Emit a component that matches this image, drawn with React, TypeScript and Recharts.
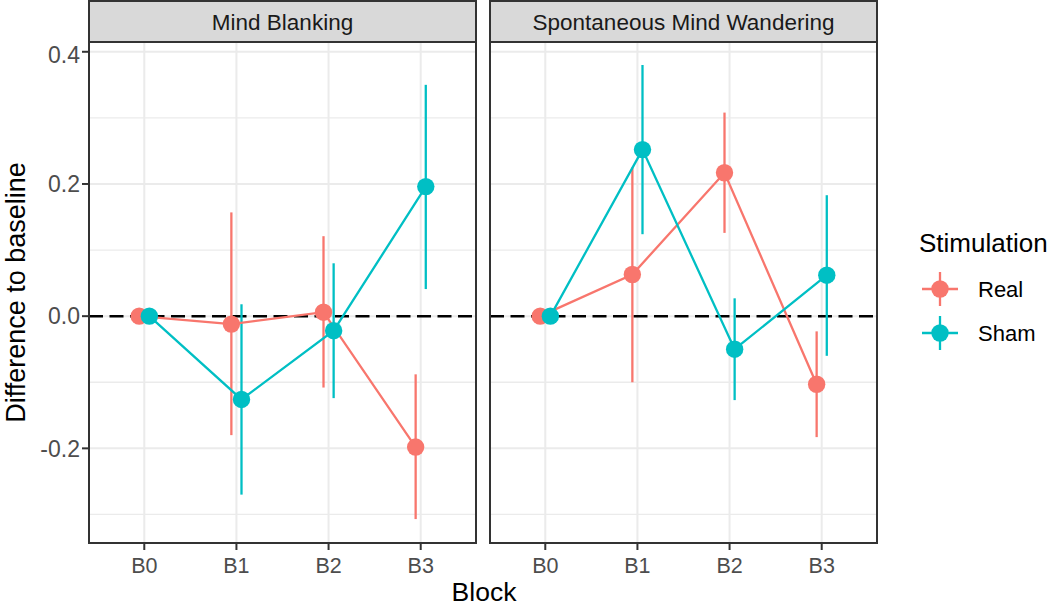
import React from 'react'
import {
  ScatterChart,
  Scatter,
  XAxis,
  YAxis,
  CartesianGrid,
  ReferenceLine,
  ErrorBar,
} from 'recharts'

const blocks = ['B0', 'B1', 'B2', 'B3']
const panelTitles = ['Mind Blanking', 'Spontaneous Mind Wandering']
const stimulations = ['Real', 'Sham']
const yTicks = [-0.2, 0, 0.2, 0.4]
const yMinor = [-0.3, -0.1, 0.1, 0.3]

// Mind Blanking
const blankRealMean = [0, -0.012, 0.006, -0.198]
const blankRealLow = [0, -0.18, -0.108, -0.307]
const blankRealHigh = [0, 0.157, 0.121, -0.088]
const blankShamMean = [0, -0.126, -0.022, 0.196]
const blankShamLow = [0, -0.27, -0.124, 0.041]
const blankShamHigh = [0, 0.018, 0.08, 0.35]

// Spontaneous Mind Wandering
const wanderRealMean = [0, 0.063, 0.217, -0.103]
const wanderRealLow = [0, -0.1, 0.126, -0.183]
const wanderRealHigh = [0, 0.225, 0.308, -0.023]
const wanderShamMean = [0, 0.252, -0.05, 0.062]
const wanderShamLow = [0, 0.124, -0.127, -0.06]
const wanderShamHigh = [0, 0.38, 0.027, 0.183]

const COLORS = { Real: '#F8766D', Sham: '#00BFC4' }
const FONT = '"Liberation Sans", Arial, sans-serif'
const DODGE = 0.055

const makeSeries = (mean: number[], low: number[], high: number[], dodge: number) =>
  blocks.map((b, i) => ({
    x: i + 1 + dodge,
    y: mean[i],
    err: [mean[i] - low[i], high[i] - mean[i]],
  }))

const panels = [
  {
    title: panelTitles[0],
    real: makeSeries(blankRealMean, blankRealLow, blankRealHigh, -DODGE),
    sham: makeSeries(blankShamMean, blankShamLow, blankShamHigh, DODGE),
  },
  {
    title: panelTitles[1],
    real: makeSeries(wanderRealMean, wanderRealLow, wanderRealHigh, -DODGE),
    sham: makeSeries(wanderShamMean, wanderShamLow, wanderShamHigh, DODGE),
  },
]

// layout (px, page coords)
const PLOT_TOP = 42
const PLOT_H = 501
const PLOT_W = 387
const PANEL_LEFT = [89, 490]

const dot = (color: string) => (props: any) =>
  <circle cx={props.cx} cy={props.cy} r={8.7} fill={color} />

function Panel({ idx }: { idx: number }) {
  const p = panels[idx]
  const showY = idx === 0
  const left = showY ? 0 : PANEL_LEFT[1]
  return (
    <div style={{ position: 'absolute', left, top: PLOT_TOP }}>
      <ScatterChart
        width={showY ? PANEL_LEFT[0] + PLOT_W + 1 : PLOT_W}
        height={564}
        margin={{ top: 0, right: showY ? 1 : 0, left: 0, bottom: 33 }}
      >
        {yMinor.map((v) => (
          <ReferenceLine key={v} y={v} stroke="#EBEBEB" strokeWidth={1.3} />
        ))}
        <CartesianGrid stroke="#EBEBEB" strokeWidth={2} />
        <XAxis
          type="number"
          dataKey="x"
          domain={[0.4, 4.6]}
          ticks={[1, 2, 3, 4]}
          tickFormatter={(v) => blocks[v - 1]}
          allowDataOverflow
          axisLine={false}
          tickLine={{ stroke: '#333333', strokeWidth: 2 }}
          tickSize={7}
          tickMargin={8}
          tick={{ fill: '#4D4D4D', fontSize: 21.5, fontFamily: FONT }}
          height={30}
        />
        <YAxis
          type="number"
          dataKey="y"
          domain={[-0.3432, 0.4148]}
          ticks={yTicks}
          tickFormatter={(v) => v.toFixed(1)}
          allowDataOverflow
          axisLine={false}
          tickLine={{ stroke: '#333333', strokeWidth: 2 }}
          tickSize={7}
          tick={{ fill: '#4D4D4D', fontSize: 23, fontFamily: FONT }}
          width={PANEL_LEFT[0]}
          hide={!showY}
        />
        <ReferenceLine y={0} stroke="#000000" strokeWidth={2.5} strokeDasharray="14 6.5" />
        <Scatter
          name="Real"
          data={p.real}
          line={{ stroke: COLORS.Real, strokeWidth: 2.3 }}
          shape={dot(COLORS.Real)}
          isAnimationActive={false}
        >
          <ErrorBar dataKey="err" direction="y" width={0} stroke={COLORS.Real} strokeWidth={2.3} />
        </Scatter>
        <Scatter
          name="Sham"
          data={p.sham}
          line={{ stroke: COLORS.Sham, strokeWidth: 2.3 }}
          shape={dot(COLORS.Sham)}
          isAnimationActive={false}
        >
          <ErrorBar dataKey="err" direction="y" width={0} stroke={COLORS.Sham} strokeWidth={2.3} />
        </Scatter>
      </ScatterChart>
    </div>
  )
}

function Overlay() {
  return (
    <svg
      width={1048}
      height={606}
      style={{ position: 'absolute', left: 0, top: 0, pointerEvents: 'none' }}
      fontFamily={FONT}
    >
      {PANEL_LEFT.map((x, i) => (
        <g key={i}>
          <rect x={x} y={1} width={PLOT_W} height={PLOT_TOP - 1} fill="#D9D9D9" stroke="#333333" strokeWidth={2} />
          <text x={x + PLOT_W / 2} y={29.5} textAnchor="middle" fontSize={22.5} fill="#1A1A1A">
            {panels[i].title}
          </text>
          <rect x={x} y={PLOT_TOP} width={PLOT_W} height={PLOT_H} fill="none" stroke="#333333" strokeWidth={2} />
        </g>
      ))}
      <text
        transform={`translate(25, ${PLOT_TOP + PLOT_H / 2}) rotate(-90)`}
        textAnchor="middle"
        fontSize={27}
        fill="#000"
      >
        Difference to baseline
      </text>
      <text x={484} y={601} textAnchor="middle" fontSize={26.5} fill="#000">
        Block
      </text>
      <text x={919} y={252} fontSize={26} fill="#000">
        Stimulation
      </text>
      {stimulations.map((s, i) => {
        const cy = 289 + i * 44
        const c = COLORS[s as 'Real' | 'Sham']
        return (
          <g key={s}>
            <line x1={922} x2={958} y1={cy} y2={cy} stroke={c} strokeWidth={2.3} />
            <line x1={940} x2={940} y1={cy - 17} y2={cy + 17} stroke={c} strokeWidth={2.3} />
            <circle cx={940} cy={cy} r={8.7} fill={c} />
            <text x={978} y={cy + 8} fontSize={22} fill="#000">
              {s}
            </text>
          </g>
        )
      })}
    </svg>
  )
}

export default function App() {
  return (
    <div
      style={{
        position: 'absolute',
        left: 0,
        top: 0,
        width: 1048,
        height: 606,
        background: '#ffffff',
        overflow: 'hidden',
      }}
    >
      <Panel idx={0} />
      <Panel idx={1} />
      <Overlay />
    </div>
  )
}
